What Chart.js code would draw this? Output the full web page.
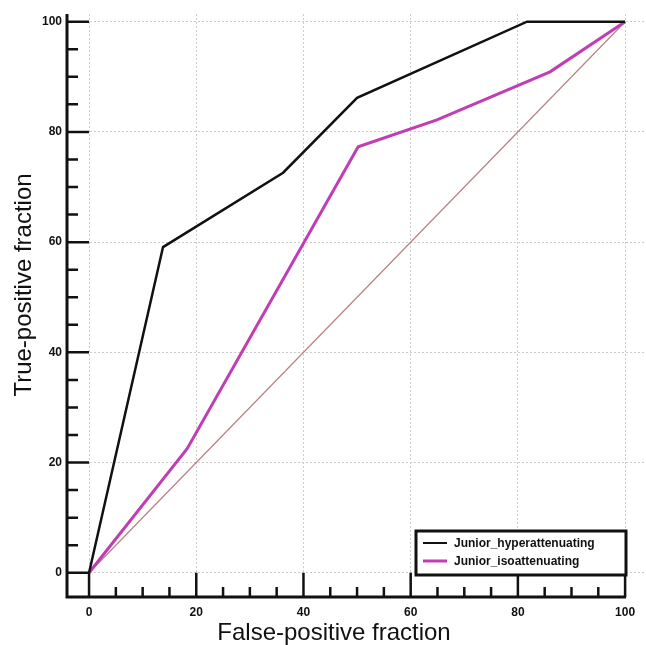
<!DOCTYPE html>
<html>
<head>
<meta charset="utf-8">
<script src="https://cdn.jsdelivr.net/npm/chart.js@4"></script>
<style>
    html, body { margin: 0; padding: 0; background: #fff; }
    #wrap { width: 646px; height: 645px; }
</style>
</head>
<body>
<div id="wrap"><canvas id="roc" width="646" height="645"></canvas></div>
<script>
// ROC curve points (false-positive fraction, true-positive fraction)
const hyperFpr = [0, 13.8, 36.2, 50, 81.7, 100];
const hyperTpr = [0, 59.1, 72.6, 86.2, 100, 100];
const isoFpr = [0, 18.3, 50.2, 64.9, 86, 100];
const isoTpr = [0, 22.5, 77.3, 82.2, 90.9, 100];
const refLine = [0, 100];
const seriesLabels = ['Junior_hyperattenuating', 'Junior_isoattenuating'];
const seriesColors = ['#111111', '#c13db3'];

function toPoints(xs, ys) {
    return xs.map(function(x, i) { return { x: x, y: ys[i] }; });
}

// draws the thick axes with inward ticks plus the boxed legend
const axesAndLegend = {
    id: 'axesAndLegend',
    afterDraw: function(chart) {
        const c = chart.ctx;
        const xs = chart.scales.x;
        const ys = chart.scales.y;
        const area = chart.chartArea;
        const x0 = area.left + 1;
        const y0 = area.bottom;

        c.save();
        c.strokeStyle = '#111';
        c.lineCap = 'butt';

        // axis lines
        c.lineWidth = 3;
        c.beginPath();
        c.moveTo(x0, area.top);
        c.lineTo(x0, y0 + 1.5);
        c.moveTo(area.left - 0.5, y0);
        c.lineTo(xs.getPixelForValue(100) + 1, y0);
        c.stroke();

        // ticks every 5, major every 20
        c.lineWidth = 2.5;
        for (let v = 0; v <= 100; v += 5) {
            const major = v % 20 === 0;
            const py = ys.getPixelForValue(v);
            const px = xs.getPixelForValue(v);
            c.beginPath();
            c.moveTo(x0, py);
            c.lineTo(major ? xs.getPixelForValue(0) : x0 + 11, py);
            c.moveTo(px, y0);
            c.lineTo(px, major ? ys.getPixelForValue(0) : y0 - 10);
            c.stroke();
        }

        // legend box
        const bx = area.right - 230, by = area.bottom - 66, bw = 210, bh = 44;
        c.fillStyle = '#fff';
        c.fillRect(bx, by, bw, bh);
        c.lineWidth = 3;
        c.strokeRect(bx, by, bw, bh);
        c.font = 'bold 12px "Liberation Sans", Arial, sans-serif';
        c.textBaseline = 'middle';
        c.textAlign = 'left';
        seriesLabels.forEach(function(label, i) {
            const ly = by + 12 + i * 18;
            c.strokeStyle = seriesColors[i];
            c.lineWidth = i === 0 ? 2 : 3;
            c.beginPath();
            c.moveTo(bx + 7, ly);
            c.lineTo(bx + 31, ly);
            c.stroke();
            c.fillStyle = '#111';
            c.fillText(label, bx + 38, ly + 0.5);
        });

        // axis titles
        c.fillStyle = '#111';
        c.font = '24px "Liberation Sans", Arial, sans-serif';
        c.textAlign = 'center';
        c.textBaseline = 'alphabetic';
        c.fillText('False-positive fraction', 334, 640);
        c.save();
        c.translate(31, 285);
        c.rotate(-Math.PI / 2);
        c.fillText('True-positive fraction', 0, 0);
        c.restore();

        c.restore();
    }
};

function gridColor(ctx) {
    return ctx.tick && ctx.tick.value % 20 === 0 && ctx.tick.value <= 100 ? '#cccccc' : 'rgba(0,0,0,0)';
}

function tickLabel(value) {
    return value % 20 === 0 && value <= 100 ? String(value) : '';
}

new Chart(document.getElementById('roc'), {
    type: 'scatter',
    data: {
        datasets: [
            {
                label: seriesLabels[0],
                data: toPoints(hyperFpr, hyperTpr),
                showLine: true,
                borderColor: seriesColors[0],
                borderWidth: 2.5,
                pointRadius: 0,
                tension: 0,
                order: 1
            },
            {
                label: seriesLabels[1],
                data: toPoints(isoFpr, isoTpr),
                showLine: true,
                borderColor: seriesColors[1],
                borderWidth: 3,
                pointRadius: 0,
                tension: 0,
                order: 2
            },
            {
                label: 'reference',
                data: toPoints(refLine, refLine),
                showLine: true,
                borderColor: '#b98080',
                borderWidth: 1.2,
                pointRadius: 0,
                tension: 0,
                order: 3
            }
        ]
    },
    options: {
        responsive: false,
        animation: false,
        layout: { padding: { top: 14, left: 0, right: 0, bottom: 0 } },
        plugins: {
            legend: { display: false },
            tooltip: { enabled: false }
        },
        scales: {
            x: {
                type: 'linear',
                min: -4.3,
                max: 103.9,
                afterFit: function(scale) { scale.height = 48; },
                border: { display: false, dash: [2, 2] },
                grid: { color: gridColor, lineWidth: 1, drawTicks: false },
                ticks: {
                    stepSize: 5,
                    includeBounds: false,
                    autoSkip: false,
                    maxRotation: 0,
                    padding: 8,
                    color: '#111',
                    font: { family: '"Liberation Sans", Arial, sans-serif', size: 12, weight: 'bold' },
                    callback: tickLabel
                }
            },
            y: {
                type: 'linear',
                min: -4.4,
                max: 101.4,
                afterFit: function(scale) { scale.width = 66; },
                border: { display: false, dash: [2, 2] },
                grid: { color: gridColor, lineWidth: 1, drawTicks: false },
                ticks: {
                    stepSize: 5,
                    includeBounds: false,
                    autoSkip: false,
                    padding: 4,
                    color: '#111',
                    font: { family: '"Liberation Sans", Arial, sans-serif', size: 12, weight: 'bold' },
                    callback: tickLabel
                }
            }
        }
    },
    plugins: [axesAndLegend]
});
</script>
</body>
</html>
